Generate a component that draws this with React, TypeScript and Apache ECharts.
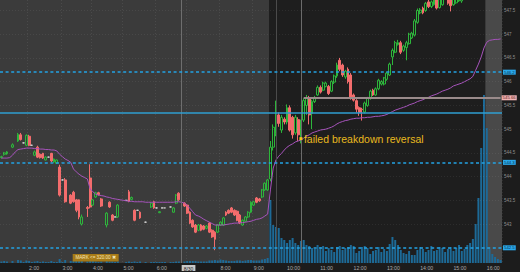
import React, { useEffect, useRef } from 'react';
import * as echarts from 'echarts';

// ---- time slots (5-minute bars); a few empty pre-market slots are absent ----
const FIRST_MINUTE = 70; // 1:10
const LAST_MINUTE = 985; // 16:25
const STEP_MINUTES = 5;
const SKIPPED_TIMES = ['3:25', '4:35', '6:20'];
const TIMES: string[] = [];
for (let m = FIRST_MINUTE; m <= LAST_MINUTE; m += STEP_MINUTES) {
  const t = `${Math.floor(m / 60)}:${String(m % 60).padStart(2, '0')}`;
  if (!SKIPPED_TIMES.includes(t)) TIMES.push(t);
}

const HIDDEN_HOUR_LABELS = ['7:00'];
const DATE_TIME = '6:50';
const DATE_LABEL = '8/30';
const OPEN_TIME = '9:30';
const CLOSE_TIME = '16:00';

// ---- price axis ----
const PRICE_MIN = 542.18;
const PRICE_MAX = 547.72;
const PRICE_TICKS = [543, 543.5, 544, 544.5, 545, 545.5, 546, 546.5, 547, 547.5];
const DASHED_LEVELS = [546.2, 544.3, 542.5];
const SOLID_LEVEL = 545.34;
const PIVOT_LEVEL = 545.66;
const PIVOT_FROM = '10:30';
const EVENT_TIMES = ['9:40', '10:25'];
const ANNOTATION_TIME = '10:25';
const ANNOTATION_PRICE = 544.8;
const ANNOTATION_TEXT = 'failed breakdown reversal';
const ALERT_TIME = '4:05';
const ALERT_PRICE = 542.29;
const ALERT_TEXT = 'MARK <= 320.00 \u2716';
const VOLUME_MAX = 10520;

// ---- candles: [open, close, low, high] ----
const OHLC: (number[] | null)[] = [
  // 0-9
  [544.40, 544.42, 544.38, 544.44], [544.47, 544.50, 544.44, 544.52], [544.48, 544.52, 544.46, 544.54], null,
  [544.62, 544.67, 544.60, 544.70], null, [544.75, 544.89, 544.73, 544.92], [544.88, 544.78, 544.76, 544.92],
  [544.71, 544.71, 544.70, 544.72], [544.66, 544.87, 544.64, 544.89],
  // 10-19
  [544.85, 544.66, 544.64, 544.88], [544.66, 544.66, 544.65, 544.67], [544.45, 544.52, 544.43, 544.55],
  [544.62, 544.41, 544.39, 544.65], [544.47, 544.40, 544.38, 544.49], [544.49, 544.39, 544.37, 544.50],
  [544.35, 544.41, 544.34, 544.43], [544.41, 544.41, 544.40, 544.42], [544.49, 544.33, 544.30, 544.50],
  [544.31, 544.37, 544.29, 544.38],
  // 20-29
  [544.28, 544.35, 544.27, 544.36], [544.20, 543.61, 543.58, 544.25], [543.93, 543.93, 543.92, 543.94],
  [543.93, 543.47, 543.45, 543.97], null, [543.61, 543.44, 543.42, 543.63], [543.67, 543.47, 543.45, 543.70],
  [543.51, 543.29, 543.25, 543.53], [543.51, 543.15, 543.10, 543.52], [543.00, 543.15, 542.97, 543.20],
  // 30-39
  null, [543.35, 543.33, 543.15, 543.38], [543.97, 543.36, 543.33, 544.26], [543.40, 543.51, 543.38, 543.53],
  [543.57, 543.66, 543.55, 543.68], [543.66, 543.62, 543.60, 543.68], [543.53, 543.38, 543.36, 543.55], null,
  [542.98, 543.23, 542.93, 543.25], [543.46, 543.36, 543.34, 543.48],
  // 40-49
  [543.19, 543.08, 543.06, 543.21], [543.15, 543.15, 543.14, 543.16], [543.15, 543.40, 543.13, 543.42], null, null,
  [543.50, 543.50, 543.49, 543.51], [543.68, 543.48, 543.46, 543.72], [543.52, 543.56, 543.50, 543.58],
  [543.29, 543.08, 543.06, 543.31], [543.29, 543.29, 543.28, 543.30],
  // 50-59
  [543.25, 543.13, 543.11, 543.27], null, [543.04, 543.04, 543.03, 543.05], null, [543.36, 543.44, 543.34, 543.46],
  [543.47, 543.34, 543.32, 543.49], [543.34, 543.34, 543.33, 543.35], [543.24, 543.26, 543.23, 543.27],
  [543.34, 543.34, 543.33, 543.35], [543.34, 543.34, 543.33, 543.35],
  // 60-69
  null, [543.36, 543.36, 543.35, 543.37], [543.25, 543.34, 543.24, 543.36], [543.44, 543.61, 543.42, 543.63],
  [543.65, 543.51, 543.49, 543.67], null, [543.44, 543.38, 543.36, 543.46], [543.40, 543.23, 543.21, 543.42],
  [543.25, 543.02, 543.00, 543.27], [543.08, 542.94, 542.92, 543.10],
  // 70-79
  [542.98, 542.83, 542.81, 543.00], [542.87, 542.98, 542.85, 543.00], [542.98, 542.87, 542.85, 543.00],
  [542.96, 542.89, 542.87, 542.98], [542.91, 542.96, 542.89, 542.98], [543.02, 542.83, 542.81, 543.04],
  [542.87, 542.73, 542.71, 542.89], [542.83, 542.68, 542.45, 542.85], [542.83, 542.98, 542.81, 543.00],
  [542.98, 543.04, 542.96, 543.06],
  // 80-89
  [542.98, 543.13, 542.96, 543.15], [543.25, 543.19, 543.17, 543.27], [543.29, 543.23, 543.21, 543.31],
  [543.34, 543.25, 543.23, 543.36], [543.29, 543.19, 543.17, 543.31], [543.27, 543.08, 543.06, 543.29],
  [543.19, 543.02, 543.00, 543.21], [542.98, 543.08, 542.96, 543.10], [543.06, 543.15, 543.04, 543.17],
  [543.15, 543.25, 543.13, 543.27],
  // 90-99
  [543.25, 543.46, 543.23, 543.48], [543.40, 543.47, 543.38, 543.49], [543.55, 543.46, 543.44, 543.57],
  [543.53, 543.49, 543.47, 543.55], [543.57, 543.72, 543.55, 543.74], [543.72, 543.86, 543.70, 543.88],
  [543.72, 543.93, 543.70, 543.95], [543.95, 544.62, 543.90, 544.75], [544.62, 545.04, 544.55, 545.10],
  [544.90, 545.35, 544.85, 545.60],
  // 100-109
  [545.30, 545.12, 545.05, 545.35], [544.98, 545.25, 544.92, 545.30], [545.21, 545.15, 545.10, 545.25],
  [545.15, 545.45, 545.10, 545.52], [545.45, 544.98, 544.95, 545.50], [545.25, 544.88, 544.80, 545.28],
  [544.92, 545.25, 544.88, 545.30], [545.20, 544.88, 544.75, 545.25], [544.85, 545.15, 544.70, 545.20],
  [545.19, 545.60, 545.15, 545.65],
  // 110-119
  [545.50, 545.65, 545.30, 545.72], [545.65, 545.30, 545.10, 545.70], [545.33, 545.58, 545.00, 545.62],
  [545.58, 545.65, 545.55, 545.70], [545.72, 545.88, 545.70, 545.92], [545.88, 545.78, 545.75, 545.92],
  [545.82, 545.97, 545.80, 546.00], [545.90, 545.97, 545.88, 546.00], [545.90, 545.75, 545.72, 545.93],
  [545.80, 546.00, 545.78, 546.03],
  // 120-129
  [545.99, 546.12, 545.95, 546.15], [546.12, 546.35, 546.08, 546.40], [546.45, 546.26, 546.22, 546.50],
  [546.35, 546.14, 546.10, 546.38], [546.10, 546.22, 546.06, 546.25], [546.26, 546.00, 545.96, 546.30],
  [546.14, 545.67, 545.62, 546.18], [545.72, 545.61, 545.58, 545.75], [545.60, 545.42, 545.35, 545.63],
  [545.45, 545.35, 545.28, 545.48],
  // 130-139
  [545.42, 545.41, 545.18, 545.45], [545.36, 545.55, 545.33, 545.58], [545.50, 545.65, 545.47, 545.68],
  [545.65, 545.80, 545.62, 545.83], [545.82, 545.72, 545.70, 545.85], [545.72, 545.85, 545.70, 545.88],
  [545.85, 546.03, 545.82, 546.06], [545.95, 546.00, 545.92, 546.03], [545.95, 546.08, 545.92, 546.10],
  [546.05, 546.18, 546.02, 546.21],
  // 140-149
  [546.14, 546.37, 546.12, 546.40], [546.52, 546.66, 546.35, 546.70], [546.62, 546.82, 546.60, 546.86],
  [546.78, 546.82, 546.76, 546.88], [546.82, 546.62, 546.58, 546.86], [546.66, 546.75, 546.63, 546.78],
  [546.72, 546.82, 546.45, 546.86], [546.80, 547.00, 546.78, 547.03], [546.92, 547.02, 546.90, 547.05],
  [546.98, 547.28, 546.95, 547.32],
  // 150-159
  [547.25, 547.50, 547.22, 547.54], [547.45, 547.51, 547.42, 547.55], [547.55, 547.45, 547.42, 547.58],
  [547.50, 547.65, 547.47, 547.68], [547.68, 547.58, 547.55, 547.72], [547.58, 547.68, 547.55, 547.71],
  [547.62, 547.74, 547.60, 547.78], [547.78, 547.55, 547.52, 547.82], [547.56, 547.74, 547.54, 547.78],
  [547.62, 547.80, 547.60, 547.84],
  // 160-169
  [547.75, 547.85, 547.72, 547.88], [547.78, 547.65, 547.62, 547.82], [547.80, 547.60, 547.48, 547.84],
  [547.62, 547.80, 547.60, 547.84], [547.66, 547.82, 547.64, 547.86], [547.70, 547.85, 547.68, 547.88],
  [547.70, 547.90, 547.66, 547.95], [547.95, 548.05, 547.92, 548.08], [548.05, 548.12, 548.00, 548.15],
  [548.12, 548.20, 548.08, 548.24],
  // 170-180
  [548.20, 548.15, 548.10, 548.25], [548.15, 548.25, 548.12, 548.30], [548.25, 548.35, 548.20, 548.40],
  [548.35, 548.30, 548.22, 548.42], [548.30, 548.42, 548.25, 548.48], [548.42, 548.40, 548.35, 548.45],
  [548.40, 548.38, 548.32, 548.44], [548.38, 548.36, 548.32, 548.42], [548.36, 548.37, 548.33, 548.40],
  [548.37, 548.34, 548.30, 548.40], [548.34, 548.35, 548.31, 548.38],
];

// ---- volume (thousands of shares) ----
const VOLUME: (number | null)[] = [
  60, 80, 60, null, 80, null, 120, 100, 40, 100,
  80, 40, 60, 80, 40, 60, 40, 40, 80, 40,
  40, 160, 40, 120, null, 80, 80, 80, 120, 80,
  null, 60, 160, 80, 60, 40, 60, null, 100, 60,
  60, 40, 60, null, null, 40, 60, 40, 60, 40,
  60, null, 40, null, 40, 40, 40, 40, 40, 40,
  null, 40, 40, 60, 60, null, 60, 80, 80, 80,
  80, 60, 60, 60, 60, 100, 100, 120, 100, 140,
  120, 100, 80, 80, 80, 100, 100, 80, 100, 120,
  120, 100, 100, 100, 140, 160, 200, 2520, 1520, 1440,
  1400, 1000, 920, 800, 920, 1000, 800, 720, 880, 920,
  720, 680, 600, 560, 720, 640, 680, 480, 600, 520,
  440, 640, 680, 520, 600, 640, 720, 680, 400, 480,
  640, 680, 600, 360, 480, 520, 640, 440, 560, 480,
  760, 1040, 920, 720, 520, 400, 360, 480, 320, 320,
  520, 640, 560, 440, 520, 680, 480, 520, 640, 600,
  440, 560, 640, 480, 600, 720, 480, 560, 720, 800,
  960, 1560, 2600, 4600, 6720, 5400, 560, 360, 240, 160,
  120,
];

// ---- VWAP ----
const VWAP: number[] = [
  544.39, 544.39, 544.39, 544.40, 544.45, 544.52, 544.57, 544.58, 544.59, 544.60,
  544.60, 544.60, 544.59, 544.59, 544.58, 544.58, 544.57, 544.57, 544.56, 544.56,
  544.54, 544.47, 544.42, 544.37, 544.34, 544.30, 544.16, 544.10, 544.05, 544.01,
  543.98, 543.95, 543.74, 543.68, 543.63, 543.61, 543.60, 543.59, 543.57, 543.56,
  543.54, 543.53, 543.52, 543.51, 543.50, 543.49, 543.48, 543.48, 543.47, 543.47,
  543.47, 543.47, 543.46, 543.46, 543.46, 543.46, 543.46, 543.46, 543.46, 543.46,
  543.46, 543.46, 543.46, 543.47, 543.47, 543.46, 543.44, 543.39, 543.33, 543.26,
  543.19, 543.17, 543.14, 543.10, 543.07, 543.04, 543.01, 542.98, 542.98, 542.98,
  542.98, 542.99, 543.00, 543.01, 543.02, 543.02, 543.03, 543.03, 543.04, 543.05,
  543.06, 543.08, 543.10, 543.11, 543.13, 543.17, 543.21, 543.72, 544.18, 544.35,
  544.43, 544.49, 544.56, 544.62, 544.66, 544.69, 544.73, 544.75, 544.77, 544.81,
  544.85, 544.88, 544.92, 544.94, 544.96, 544.98, 544.99, 545.00, 545.02, 545.04,
  545.07, 545.11, 545.14, 545.16, 545.18, 545.19, 545.21, 545.22, 545.23, 545.23,
  545.24, 545.24, 545.25, 545.25, 545.26, 545.27, 545.27, 545.28, 545.29, 545.31,
  545.34, 545.37, 545.40, 545.42, 545.44, 545.46, 545.48, 545.51, 545.53, 545.55,
  545.58, 545.60, 545.62, 545.65, 545.67, 545.70, 545.72, 545.74, 545.77, 545.80,
  545.82, 545.84, 545.87, 545.91, 545.93, 545.95, 545.97, 546.00, 546.03, 546.06,
  546.11, 546.24, 546.37, 546.52, 546.71, 546.83, 546.87, 546.88, 546.89, 546.89,
  546.90,
];

const FONT = 'Liberation Sans';

export default function App() {
  const ref = useRef<HTMLDivElement>(null);
  useEffect(() => {
    if (!ref.current) return;
    const chart = echarts.init(ref.current, undefined, { renderer: 'svg' });
    const N = TIMES.length;
    const openIdx = TIMES.indexOf(OPEN_TIME);
    const closeIdx = TIMES.indexOf(CLOSE_TIME);
    const showLabel = (v: string) =>
      v === DATE_TIME || (v.endsWith(':00') && !HIDDEN_HOUR_LABELS.includes(v));

    const levelLabel = (bg: string, fg: string, text: string) => ({
      show: true,
      position: 'end',
      distance: 1,
      formatter: text,
      backgroundColor: bg,
      color: fg,
      fontSize: 4.3,
      fontFamily: FONT,
      padding: [1, 1, 0, 1],
    });

    const option: any = {
      animation: false,
      backgroundColor: '#1c1c1c',
      textStyle: { fontFamily: FONT },
      grid: {
        left: 0, right: 18, top: 0, bottom: 9,
        show: true, backgroundColor: '#3b3b3b', borderWidth: 0,
        outerBoundsMode: 'none',
      },
      xAxis: [
        {
          type: 'category',
          data: TIMES,
          boundaryGap: true,
          axisLine: { show: false },
          axisTick: { show: false },
          axisLabel: {
            interval: (_i: number, v: string) => showLabel(v),
            formatter: (v: string) => (v === DATE_TIME ? `{d|${DATE_LABEL}}` : v),
            align: 'left',
            fontSize: 5.2,
            color: '#a9a9a9',
            margin: 2,
            fontFamily: FONT,
            rich: {
              d: { backgroundColor: '#c8c8c8', color: '#1a1a1a', fontSize: 5, padding: [1, 2, 0, 2], fontFamily: FONT },
            },
          },
          splitLine: {
            show: true,
            interval: (_i: number, v: string) => v.endsWith(':00'),
            lineStyle: { color: 'rgba(255,255,255,0.08)', type: [1, 2], width: 1 },
          },
        },
        { type: 'value', min: 0, max: N, show: false },
      ],
      yAxis: [
        {
          type: 'value',
          position: 'right',
          min: PRICE_MIN,
          max: PRICE_MAX,
          axisLine: { show: false },
          axisTick: { show: false },
          splitLine: { show: false },
          axisLabel: {
            customValues: PRICE_TICKS,
            fontSize: 4.5,
            color: '#8f8f8f',
            margin: 2,
            fontFamily: FONT,
          },
        },
        { type: 'value', min: 0, max: VOLUME_MAX, show: false },
      ],
      series: [
        {
          name: 'session',
          type: 'line',
          xAxisIndex: 1,
          yAxisIndex: 0,
          data: [],
          z: 1,
          silent: true,
          markArea: {
            silent: true,
            data: [[{ xAxis: openIdx, itemStyle: { color: '#1e1e1e' } }, { xAxis: N }]],
          },
        },
        {
          name: 'volume',
          type: 'bar',
          xAxisIndex: 0,
          yAxisIndex: 1,
          data: VOLUME.map((v) => (v == null ? '-' : v)),
          barCategoryGap: '28%',
          itemStyle: { color: '#1d6a97' },
          z: 2,
          silent: true,
        },
        {
          name: 'price',
          type: 'candlestick',
          xAxisIndex: 0,
          yAxisIndex: 0,
          data: OHLC.map((c) => (c ? c : ['-', '-', '-', '-'])),
          barWidth: '84%',
          clip: true,
          z: 3,
          itemStyle: {
            color: 'rgba(0,0,0,0)',
            color0: '#f36c6c',
            borderColor: '#2db63b',
            borderColor0: '#f36c6c',
            borderColorDoji: '#cfcfcf',
            borderWidth: 1,
          },
          markLine: {
            silent: true,
            symbol: ['none', 'none'],
            animation: false,
            data: [
              ...PRICE_TICKS.map((p) => ({
                yAxis: p,
                lineStyle: { color: 'rgba(255,255,255,0.07)', type: [1, 2], width: 1 },
                label: { show: false },
              })),
              ...EVENT_TIMES.map((t, k) => ({
                xAxis: t,
                lineStyle: { color: k === 0 ? '#4b4b4b' : '#6b6b6b', type: 'solid', width: 1 },
                label: { show: false },
              })),
              {
                xAxis: DATE_TIME,
                lineStyle: { color: '#6e6e6e', type: 'solid', width: 1 },
                label: { show: false },
              },
              {
                yAxis: SOLID_LEVEL,
                lineStyle: { color: '#2f9fd2', type: 'solid', width: 1.6 },
                label: { show: false },
              },
              ...DASHED_LEVELS.map((p) => ({
                yAxis: p,
                lineStyle: { color: '#23a2e3', type: [3, 2.6], width: 1.5 },
                label: levelLabel('#2aa8ea', '#07304a', String(p)),
              })),
              [
                {
                  coord: [TIMES.indexOf(PIVOT_FROM), PIVOT_LEVEL],
                  lineStyle: { color: '#9a8b8b', type: 'solid', width: 1.8 },
                  label: levelLabel('#f2b4b4', '#5a1a1a', String(PIVOT_LEVEL)),
                },
                { coord: [N - 1, PIVOT_LEVEL] },
              ],
            ],
          },
          markPoint: {
            silent: true,
            animation: false,
            data: [
              {
                coord: [TIMES.indexOf(ANNOTATION_TIME), ANNOTATION_PRICE],
                symbol: 'rect',
                symbolSize: [3, 3],
                itemStyle: { color: '#f2c21b' },
                label: {
                  show: true,
                  position: 'right',
                  distance: 1.5,
                  formatter: ANNOTATION_TEXT,
                  color: '#e9ba1f',
                  fontSize: 10.5,
                  fontFamily: FONT,
                },
              },
              {
                coord: [TIMES.indexOf(ALERT_TIME), ALERT_PRICE],
                symbol: 'rect',
                symbolSize: [46, 7.5],
                itemStyle: { color: '#a67a17' },
                label: {
                  show: true,
                  position: 'inside',
                  formatter: ALERT_TEXT,
                  color: '#f6e6b8',
                  fontSize: 4.6,
                  fontFamily: FONT,
                },
              },
            ],
          },
        },
        {
          name: 'vwap',
          type: 'line',
          xAxisIndex: 0,
          yAxisIndex: 0,
          data: VWAP,
          showSymbol: false,
          symbol: 'none',
          z: 4,
          silent: true,
          lineStyle: { color: '#a653bb', width: 1 },
        },
        {
          name: 'afterHours',
          type: 'line',
          xAxisIndex: 1,
          yAxisIndex: 0,
          data: [],
          z: 6,
          silent: true,
          markArea: {
            silent: true,
            data: [[{ xAxis: closeIdx, itemStyle: { color: 'rgba(205,205,205,0.25)' } }, { xAxis: N }]],
          },
        },
      ],
    };
    chart.setOption(option);
    return () => chart.dispose();
  }, []);

  return (
    <div
      ref={ref}
      style={{ position: 'fixed', left: 0, top: 0, width: 520, height: 272, background: '#1c1c1c' }}
    />
  );
}
